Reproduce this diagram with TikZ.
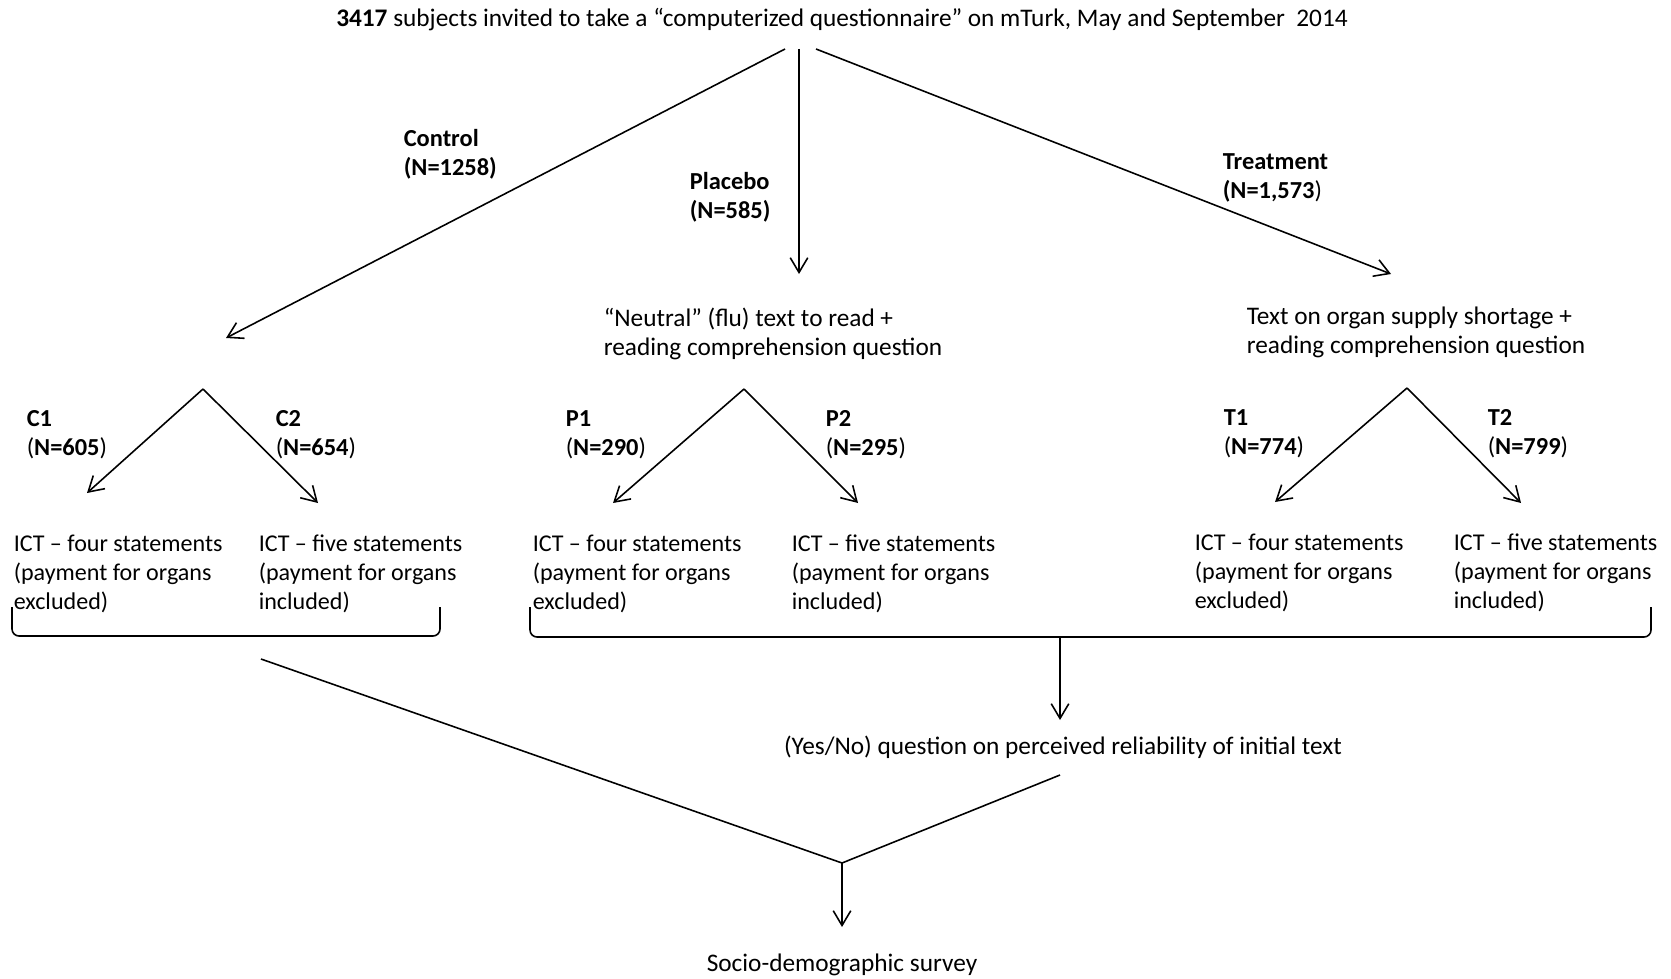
\documentclass[tikz,border=0pt]{standalone}
\usepackage{fontspec}
\setmainfont{Carlito}
\usetikzlibrary{arrows.meta}

\begin{document}
\begin{tikzpicture}[x=0.1mm, y=-0.1mm, line width=0.45pt,
    every node/.style={inner sep=0pt, font=\fontsize{7.2}{8.25}\selectfont},
    txt/.style={anchor=west, align=left},
    lbl/.style={txt, font=\fontsize{6.95}{8.25}\selectfont},
    ict/.style={txt, font=\fontsize{6.85}{8.25}\selectfont},
    arr/.style={-{Straight Barb[length=4.2pt, width=5pt]}}]
    \useasboundingbox (0,0) rectangle (1671,978);

    % Title
    \node (title) at (842,20) {\textbf{3417} subjects invited to take a ``computerized questionnaire'' on mTurk, May and September~~2014};

    % First split
    \coordinate (topL) at (785,49);
    \coordinate (topM) at (799,49);
    \coordinate (topR) at (816,49);
    \coordinate (ctrl) at (226,338);
    \coordinate (plac) at (799,274);
    \coordinate (treat) at (1391,274);
    \draw[arr] (topL) -- (ctrl);
    \draw[arr] (topM) -- (plac);
    \draw[arr] (topR) -- (treat);

    \node[lbl] (lctrl) at (403,154) {\textbf{Control}\\\textbf{(N=1258)}};
    \node[lbl] (lplac) at (689,197) {\textbf{Placebo}\\\textbf{(N=585)}};
    \node[lbl] (ltreat) at (1222,178) {\textbf{Treatment}\\\textbf{(N=1,573})};

    \node[txt] (neutral) at (603,334) {``Neutral'' (flu) text to read +\\reading comprehension question};
    \node[txt] (organ) at (1246,332) {Text on organ supply shortage +\\reading comprehension question};

    % Second splits
    \coordinate (capex) at (203,389);
    \coordinate (papex) at (744,389);
    \coordinate (tapex) at (1407,388);
    \coordinate (c1tip) at (87,493);
    \coordinate (c2tip) at (318,503);
    \coordinate (p1tip) at (613,503);
    \coordinate (p2tip) at (858,503);
    \coordinate (t1tip) at (1275,502);
    \coordinate (t2tip) at (1521,503);
    \draw[arr] (capex) -- (c1tip);
    \draw[arr] (capex) -- (c2tip);
    \draw[arr] (papex) -- (p1tip);
    \draw[arr] (papex) -- (p2tip);
    \draw[arr] (tapex) -- (t1tip);
    \draw[arr] (tapex) -- (t2tip);

    \node[lbl] (lc1) at (26,435) {\textbf{C1}\\(\textbf{N=605})};
    \node[lbl] (lc2) at (275,435) {\textbf{C2}\\(\textbf{N=654})};
    \node[lbl] (lp1) at (565,435) {\textbf{P1}\\(\textbf{N=290})};
    \node[lbl] (lp2) at (825,435) {\textbf{P2}\\(\textbf{N=295})};
    \node[lbl] (lt1) at (1223,434) {\textbf{T1}\\(\textbf{N=774})};
    \node[lbl] (lt2) at (1487,434) {\textbf{T2}\\(\textbf{N=799})};

    % ICT versions
    \node[ict] (c1) at (13,574) {ICT -- four statements\\(payment for organs\\excluded)};
    \node[ict] (c2) at (258,574) {ICT -- five statements\\(payment for organs\\included)};
    \node[ict] (p1) at (532,574) {ICT -- four statements\\(payment for organs\\excluded)};
    \node[ict] (p2) at (791,574) {ICT -- five statements\\(payment for organs\\included)};
    \node[ict] (t1) at (1194,573) {ICT -- four statements\\(payment for organs\\excluded)};
    \node[ict] (t2) at (1453,573) {ICT -- five statements\\(payment for organs\\included)};

    % Brackets
    \draw[rounded corners=2] (12,607) -- (12,636) -- (440,636) -- (440,607);
    \draw[rounded corners=2] (530,607) -- (530,637) -- (1651,637) -- (1651,607);

    % Reliability question
    \coordinate (brk) at (1060,637);
    \node (yesno) at (1063,747) {(Yes/No) question on perceived reliability of initial text};
    \draw[arr] (brk) -- (1060,720);

    % Merge
    \coordinate (mleft) at (261,659);
    \coordinate (mright) at (1060,775);
    \coordinate (merge) at (842,863);
    \node (survey) at (842,965) {Socio-demographic survey};
    \draw (mleft) -- (merge) -- (mright);
    \draw[arr] (merge) -- (842,927);
\end{tikzpicture}
\end{document}
